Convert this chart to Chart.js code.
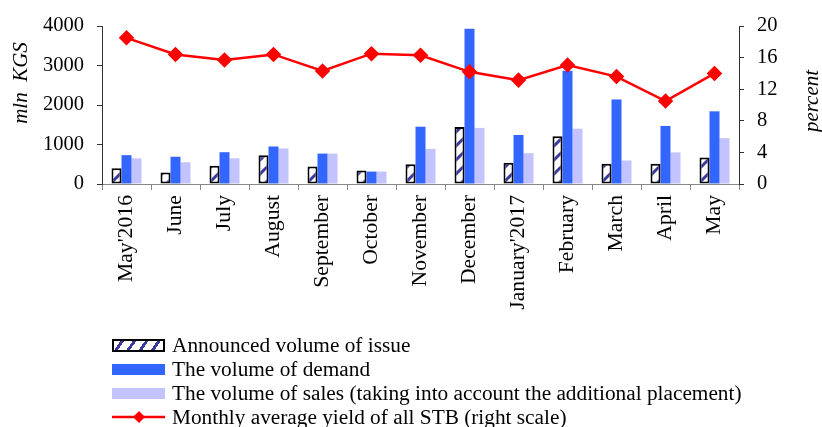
<!DOCTYPE html>
<html>
<head>
<meta charset="utf-8">
<script src="https://cdn.jsdelivr.net/npm/chart.js@4.4.1/dist/chart.umd.min.js"></script>
<style>
  body { margin: 0; background: #fff; }
  #wrap { position: relative; width: 822px; height: 427px; overflow: hidden; }
  #legend { position: absolute; left: 0; top: 0; font-family: "Liberation Serif", "Times New Roman", serif; font-size: 21.3px; color: #000; }
  .row { position: absolute; left: 112px; height: 24px; display: flex; align-items: center; white-space: nowrap; }
  .sw { width: 53px; margin-right: 7px; box-sizing: border-box; flex: none; }
</style>
</head>
<body>
<div id="wrap">
  <canvas id="chart" width="822" height="427"></canvas>
  <div id="legend">
    <div class="row" style="top:333px"><span class="sw" style="height:13px;border:2px solid #000;background:repeating-linear-gradient(-55deg,#fff 0 7px,#3a3a9e 7px 10px)"></span>Announced volume of issue</div>
    <div class="row" style="top:357px"><span class="sw" style="height:11px;background:#3366ff"></span>The volume of demand</div>
    <div class="row" style="top:381px"><span class="sw" style="height:11px;background:#c3c3ff"></span>The volume of sales (taking into account the additional placement)</div>
    <div class="row" style="top:405px"><svg class="sw" width="53" height="14" viewBox="0 0 53 14"><line x1="0" y1="7" x2="53" y2="7" stroke="#ff0000" stroke-width="2.5"/><polygon points="27,1 33,7 27,13 21,7" fill="#ff0000"/></svg>Monthly average yield of all STB (right scale)</div>
  </div>
</div>
<script>
const months = ["May'2016", "June", "July", "August", "September", "October", "November",
  "December", "January'2017", "February", "March", "April", "May"];
const announced = [400, 290, 460, 730, 440, 340, 500, 1440, 540, 1210, 510, 510, 670];
const demand = [730, 690, 805, 950, 770, 315, 1450, 3930, 1240, 2870, 2140, 1470, 1840];
const sales = [650, 550, 650, 900, 770, 315, 890, 1420, 780, 1400, 595, 800, 1160];
const yieldPct = [18.5, 16.4, 15.7, 16.4, 14.3, 16.5, 16.3, 14.2, 13.15, 15.05, 13.6, 10.5, 14.0];

const leftTicks = [0, 1000, 2000, 3000, 4000];
const rightTicks = [0, 4, 8, 12, 16, 20];

// hatch for the announced bars: sparse diagonal stripes on white
function makeHatch() {
  const c = document.createElement('canvas');
  c.width = 14; c.height = 14;
  const g = c.getContext('2d');
  g.fillStyle = '#fff';
  g.fillRect(0, 0, 14, 14);
  g.strokeStyle = '#3a3a9e';
  g.lineWidth = 3;
  g.beginPath();
  g.moveTo(-3, 17); g.lineTo(17, -3);
  g.moveTo(-3, 3); g.lineTo(3, -3);
  g.moveTo(11, 17); g.lineTo(17, 11);
  g.stroke();
  return g.createPattern(c, 'repeat');
}
const ctx = document.getElementById('chart').getContext('2d');
const hatch = makeHatch();

const serif = "'Liberation Serif', 'Times New Roman', serif";
const axisColor = '#333';

function vertText(c, text, x, y) {
  c.save();
  c.fillStyle = '#000';
  c.font = 'italic 21px ' + serif;
  c.textAlign = 'center';
  c.textBaseline = 'middle';
  c.translate(x, y);
  c.rotate(-Math.PI / 2);
  c.fillText(text, 0, 0);
  c.restore();
}

const axisTitles = {
  id: 'axisTitles',
  afterDraw(chart) {
    vertText(chart.ctx, 'mln  KGS', 21, 83);
    vertText(chart.ctx, 'percent', 812, 101);
  }
};

new Chart(ctx, {
  type: 'bar',
  data: {
    labels: months,
    datasets: [
      {
        type: 'line',
        label: 'Monthly average yield of all STB (right scale)',
        data: yieldPct,
        yAxisID: 'y1',
        borderColor: '#ff0000',
        backgroundColor: '#ff0000',
        borderWidth: 2.5,
        pointStyle: 'rectRot',
        pointRadius: 6,
        pointHoverRadius: 6,
        tension: 0,
        order: 0
      },
      {
        label: 'Announced volume of issue',
        data: announced,
        backgroundColor: hatch,
        borderColor: '#000',
        borderWidth: 2,
        borderSkipped: false,
        order: 1
      },
      {
        label: 'The volume of demand',
        data: demand,
        backgroundColor: '#3366ff',
        order: 1
      },
      {
        label: 'The volume of sales (taking into account the additional placement)',
        data: sales,
        backgroundColor: '#c3c3ff',
        order: 1
      }
    ]
  },
  options: {
    responsive: false,
    animation: false,
    layout: { padding: { top: 26, left: 0, right: 0, bottom: 0 } },
    datasets: { bar: { categoryPercentage: 0.612, barPercentage: 1 } },
    plugins: {
      legend: { display: false },
      tooltip: { enabled: false }
    },
    scales: {
      x: {
        afterFit: s => { s.height = 243; },
        grid: { drawOnChartArea: false, drawTicks: true, tickLength: 6, color: '#888', offset: true },
        border: { display: true, color: '#888' },
        ticks: {
          autoSkip: false, minRotation: 90, maxRotation: 90, padding: 5,
          color: '#000', font: { family: serif, size: 21.7 }
        }
      },
      y: {
        position: 'left',
        min: 0, max: 4000,
        afterFit: s => { s.width = 102; },
        afterBuildTicks: s => { s.ticks = leftTicks.map(v => ({ value: v })); },
        grid: { drawOnChartArea: false, tickLength: 5, color: axisColor },
        border: { display: true, color: axisColor },
        ticks: { padding: 13, color: '#000', font: { family: serif, size: 20.5 }, callback: v => String(v) }
      },
      y1: {
        position: 'right',
        min: 0, max: 20,
        afterFit: s => { s.width = 83; },
        afterBuildTicks: s => { s.ticks = rightTicks.map(v => ({ value: v })); },
        grid: { drawOnChartArea: false, tickLength: 5, color: axisColor },
        border: { display: true, color: axisColor },
        ticks: { padding: 13, color: '#000', font: { family: serif, size: 20.5 }, callback: v => String(v) }
      }
    }
  },
  plugins: [axisTitles]
});
</script>
</body>
</html>
